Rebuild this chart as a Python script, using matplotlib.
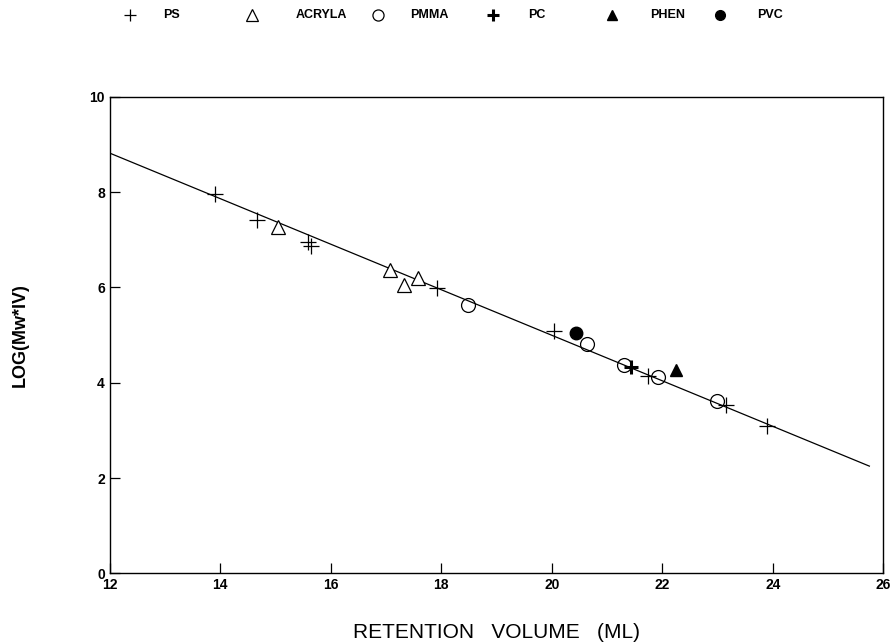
import matplotlib
matplotlib.use("Agg")
import matplotlib.pyplot as plt
from matplotlib.lines import Line2D

plt.rcParams['font.family'] = ['Liberation Sans', 'DejaVu Sans']

# -----------------------
# Data
# -----------------------
ps_x = [13.90, 14.66, 15.59, 15.64, 17.92, 20.04, 21.75, 23.16, 23.90]
ps_y = [7.96, 7.41, 6.95, 6.88, 5.98, 5.08, 4.15, 3.54, 3.10]

acryla_x = [15.04, 17.08, 17.33, 17.57]
acryla_y = [7.27, 6.37, 6.05, 6.20]

pmma_x = [18.49, 20.64, 21.30, 21.92, 22.99]
pmma_y = [5.64, 4.82, 4.38, 4.13, 3.61]

pc_x = [21.44]
pc_y = [4.33]

phen_x = [22.25]
phen_y = [4.26]

pvc_x = [20.44]
pvc_y = [5.04]

# calibration line end points
fit_x = [12.0, 25.75]
fit_y = [8.82, 2.25]

xticks = [12, 14, 16, 18, 20, 22, 24, 26]
yticks = [0, 2, 4, 6, 8, 10]

labels = ["PS", "ACRYLA", "PMMA", "PC", "PHEN", "PVC"]

fig = plt.figure(figsize=(8.93, 6.42), dpi=100)
ax = fig.add_axes([0.123, 0.107, 0.866, 0.742])

ax.plot(fit_x, fit_y, color='black', lw=0.9)

styles = [
    dict(marker='+', ms=11, mew=0.9, color='black'),
    dict(marker='^', ms=10, mew=0.9, mfc='white', mec='black'),
    dict(marker='o', ms=10, mew=0.9, mfc='none', mec='black'),
    dict(marker='+', ms=10, mew=2.2, color='black'),
    dict(marker='^', ms=9, color='black'),
    dict(marker='o', ms=9, color='black'),
]
series = [(ps_x, ps_y), (acryla_x, acryla_y), (pmma_x, pmma_y),
          (pc_x, pc_y), (phen_x, phen_y), (pvc_x, pvc_y)]
for (sx, sy), st in zip(series, styles):
    ax.plot(sx, sy, ls='none', **st)

ax.set_xlim(12, 26)
ax.set_ylim(0, 10)
ax.set_xticks(xticks)
ax.set_yticks(yticks)
ax.tick_params(direction='in', length=7, width=0.9, labelsize=10)
for lab in ax.get_xticklabels() + ax.get_yticklabels():
    lab.set_fontweight('bold')
for s in ax.spines.values():
    s.set_linewidth(1.0)

ax.set_xlabel("RETENTION   VOLUME   (ML)", fontsize=15, labelpad=22)
ax.set_ylabel("LOG(Mw*IV)", fontsize=13, fontweight='bold', labelpad=44)

# legend row across the top (marker, then label)
marker_px = [130, 252, 378, 493, 612, 720]
text_px = [163, 296, 410, 528, 650, 757]
leg_y = 1 - 15 / 642
for mx, tx, st, lab in zip(marker_px, text_px, styles, labels):
    st_leg = dict(st)
    st_leg['ms'] = st['ms'] - 2
    fig.add_artist(Line2D([mx / 893], [leg_y], ls='none',
                          transform=fig.transFigure, **st_leg))
    fig.text(tx / 893, leg_y, lab, fontsize=9, fontweight='bold',
             va='center', ha='left')

fig.savefig("out.png", dpi=100)
